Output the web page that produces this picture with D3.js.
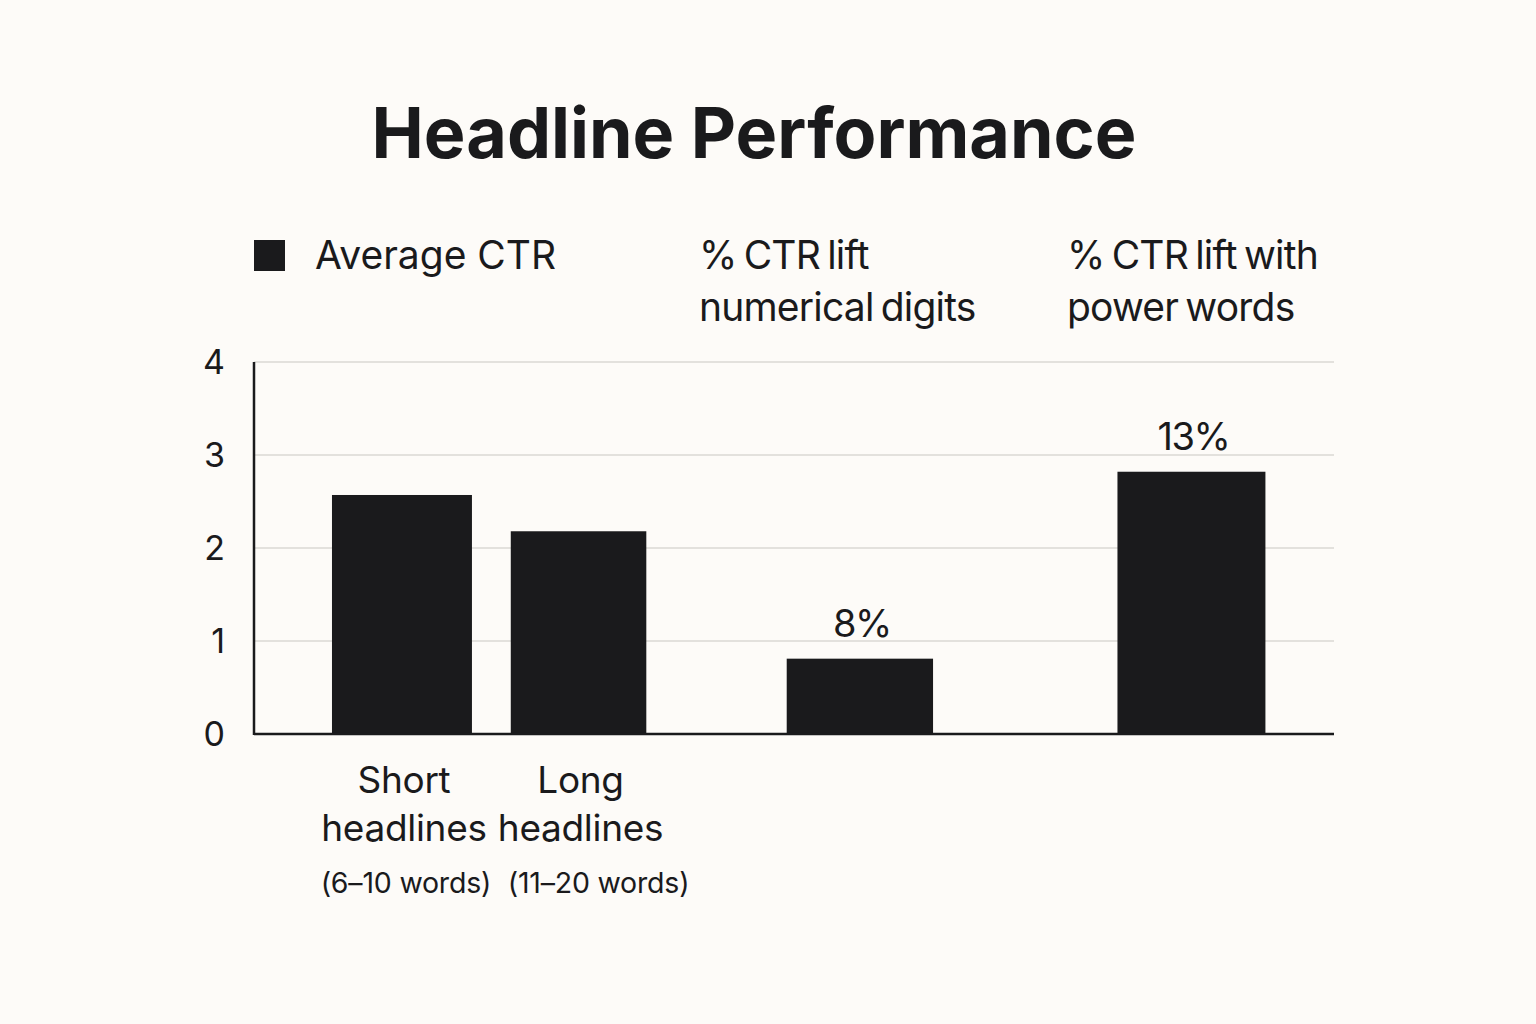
<!DOCTYPE html>
<html>
<head>
<meta charset="utf-8">
<script src="https://cdn.jsdelivr.net/npm/d3@7"></script>
<style>
  html, body { margin: 0; padding: 0; background: #fdfbf8; }
  svg { display: block; }
  text { font-family: Inter, "Noto Sans", sans-serif; fill: #1a1a1c; }
</style>
</head>
<body>
<svg id="chart" width="1536" height="1024"></svg>
<script>
// ---- data ----
const categories = ["short", "long", "digits", "power"];
const values = [2.57, 2.18, 0.81, 2.82];
const valueLabels = ["", "", "8%", "13%"];
const categoryLabels = [["Short", "headlines"], ["Long", "headlines"], [], []];
const categorySubLabels = ["(6–10 words)", "(11–20 words)", "", ""];
const yTicks = [0, 1, 2, 3, 4];
const legendLabel = "Average CTR";
const groupHeaders = [["% CTR lift", "numerical digits"], ["% CTR lift with", "power words"]];
const title = "Headline Performance";

// ---- layout (positions kept separate from data) ----
const W = 1536, H = 1024;
const plot = { left: 254, right: 1334, top: 362, bottom: 734 };
const slotCenter = { short: 0.137, long: 0.3005, digits: 0.561, power: 0.868 };
const slotWidth = { short: 0.1296, long: 0.1255, digits: 0.1355, power: 0.137 };
const subLabelShift = { short: 4, long: 20, digits: 0, power: 0 };
const headerX = [699, 1067];
const ink = "#1a1a1c";

const svg = d3.select("#chart");
svg.append("rect").attr("width", W).attr("height", H).attr("fill", "#fdfbf8");

const x = d3.scaleLinear().domain([0, 1]).range([plot.left, plot.right]);
const y = d3.scaleLinear().domain([0, 4]).range([plot.bottom, plot.top]);

// title
svg.append("text")
  .attr("x", 754).attr("y", 158)
  .attr("text-anchor", "middle")
  .attr("font-size", 70).attr("font-weight", 700)
  .text(title);

// gridlines
svg.append("g").selectAll("line").data(yTicks.filter(t => t > 0)).join("line")
  .attr("x1", plot.left).attr("x2", plot.right)
  .attr("y1", d => y(d)).attr("y2", d => y(d))
  .attr("stroke", "#e3e1dd").attr("stroke-width", 2);

// y axis
const yAxis = d3.axisLeft(y).tickValues(yTicks).tickSize(0).tickPadding(29).tickFormat(d3.format("d"));
const gy = svg.append("g").attr("transform", `translate(${plot.left},0)`).call(yAxis);
gy.select(".domain").remove();
gy.selectAll("text").attr("font-size", 34).attr("fill", ink)
  .attr("font-family", "Inter, 'Noto Sans', sans-serif").attr("dy", "0.34em");

// bars
const data = categories.map((c, i) => ({ c, v: values[i], label: valueLabels[i] }));
svg.append("g").selectAll("rect").data(data).join("rect")
  .attr("x", d => x(slotCenter[d.c]) - (x(slotWidth[d.c]) - x(0)) / 2)
  .attr("width", d => x(slotWidth[d.c]) - x(0))
  .attr("y", d => y(d.v))
  .attr("height", d => y(0) - y(d.v))
  .attr("fill", ink);

// axis lines
svg.append("line").attr("x1", plot.left).attr("x2", plot.left)
  .attr("y1", plot.top).attr("y2", plot.bottom + 1)
  .attr("stroke", ink).attr("stroke-width", 2.5);
svg.append("line").attr("x1", plot.left).attr("x2", plot.right)
  .attr("y1", plot.bottom).attr("y2", plot.bottom)
  .attr("stroke", ink).attr("stroke-width", 2.5);

// value labels
svg.append("g").selectAll("text").data(data.filter(d => d.label)).join("text")
  .attr("x", d => x(slotCenter[d.c]) + 2)
  .attr("y", d => y(d.v) - 22)
  .attr("text-anchor", "middle")
  .attr("font-size", 38)
  .attr("letter-spacing", -1.5)
  .text(d => d.label);

// category labels
const catG = svg.append("g");
categories.forEach((c, i) => {
  categoryLabels[i].forEach((line, j) => {
    catG.append("text")
      .attr("x", x(slotCenter[c]) + (j === 1 ? 2 : 2))
      .attr("y", 793 + j * 48)
      .attr("text-anchor", "middle")
      .attr("font-size", 37)
      .attr("letter-spacing", -0.3)
      .text(line);
  });
  if (categorySubLabels[i]) {
    catG.append("text")
      .attr("x", x(slotCenter[c]) + subLabelShift[c])
      .attr("y", 893)
      .attr("text-anchor", "middle")
      .attr("font-size", 28.5)
      .attr("letter-spacing", -0.2)
      .text(categorySubLabels[i]);
  }
});

// legend
svg.append("rect").attr("x", 254).attr("y", 240).attr("width", 31).attr("height", 31).attr("fill", ink);
svg.append("text").attr("x", 315).attr("y", 269).attr("font-size", 39).text(legendLabel);

// group headers
groupHeaders.forEach((lines, i) => {
  lines.forEach((line, j) => {
    svg.append("text")
      .attr("x", headerX[i]).attr("y", 269 + j * 52)
      .attr("font-size", 39)
      .attr("letter-spacing", -0.8)
      .attr("word-spacing", -3)
      .text(line);
  });
});
</script>
</body>
</html>
